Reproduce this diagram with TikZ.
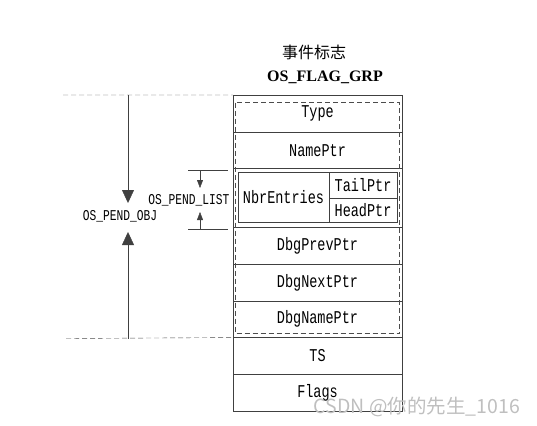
\documentclass[tikz,border=0pt]{standalone}
\usepackage{fontspec}
\setmainfont{Liberation Serif}
\newfontfamily\cjkfont{Noto Sans CJK SC}
\newfontfamily\cellfont[FakeStretch=0.75]{Liberation Mono}
\usetikzlibrary{positioning,calc,arrows.meta}
\tikzset{
  cell/.style={draw=black!75, outer sep=0pt, inner sep=0pt,
    minimum width=169pt, minimum height=36.7pt,
    font=\cellfont\fontsize{18}{20}\selectfont},
  subcell/.style={cell, minimum width=68pt},
  dashbox/.style={draw=black!70, dash pattern=on 5pt off 3pt},
  dimline/.style={draw=black!75},
  bigtip/.style={dimline, -{Triangle[width=12pt,length=13pt]}},
  smalltip/.style={dimline, -{Triangle[width=6pt,length=8pt]}},
  dimlabel/.style={inner sep=0pt, font=\cellfont\fontsize{15}{17}\selectfont}
}
\begin{document}
\begin{tikzpicture}[x=1pt,y=-1pt]
\useasboundingbox (0,0) rectangle (537,425);
% title
\node[font=\cjkfont\fontsize{16}{18}\selectfont] (title) at (314,52) {事件标志};
\node[font=\bfseries\fontsize{16}{18}\selectfont] (grp) at (325,77) {OS\_FLAG\_GRP};
% the fields
\node[cell] (type) at (317.5,113.4) {Type};
\node[cell, below=0pt of type] (nameptr) {NamePtr};
\node[cell, minimum height=59pt, below=0pt of nameptr] (pendlist) {};
\node[cell, below=0pt of pendlist] (dbgprev) {DbgPrevPtr};
\node[cell, below=0pt of dbgprev] (dbgnext) {DbgNextPtr};
\node[cell, below=0pt of dbgnext] (dbgname) {DbgNamePtr};
\node[cell, below=0pt of dbgname] (ts) {TS};
\node[cell, below=0pt of ts] (flags) {Flags};
% OS_PEND_LIST inside
\node[cell, minimum width=91pt, minimum height=50pt, anchor=north west] (nbr)
  at ($(pendlist.north west)+(5,4)$) {NbrEntries};
\node[subcell, minimum height=26pt, anchor=north west] (tail) at (nbr.north east) {TailPtr};
\node[subcell, minimum height=24pt, below=0pt of tail] (head) {HeadPtr};
% OS_PEND_OBJ part
\draw[dashbox] ($(type.north west)+(2.5,7.5)$) rectangle ($(dbgname.south east)+(-2.5,-4)$);
% OS_PEND_OBJ dimension
\coordinate (objtop) at (63,95);
\coordinate (objbot) at (66,338.5);
\coordinate (objup) at (128,95);
\coordinate (objdown) at (128,338.5);
\coordinate (objtipa) at (128,203);
\coordinate (objtipb) at (128,232);
\draw[dashbox] (objtop) -- (type.north west);
\draw[dashbox] (objbot) -- (dbgname.south west);
\draw[bigtip] (objup) -- (objtipa);
\draw[bigtip] (objdown) -- (objtipb);
\node[dimlabel] (objlabel) at (120,216) {OS\_PEND\_OBJ};
% OS_PEND_LIST dimension
\coordinate (lsta) at (188,170);
\coordinate (lstb) at (228,170);
\coordinate (lstc) at (188,229);
\coordinate (lstd) at (228,229);
\coordinate (lstup) at (200,170);
\coordinate (lstdown) at (200,229);
\coordinate (lsttipa) at (200,188);
\coordinate (lsttipb) at (200,212);
\draw[dimline] (lsta) -- (lstb);
\draw[dimline] (lstc) -- (lstd);
\draw[smalltip] (lstup) -- (lsttipa);
\draw[smalltip] (lstdown) -- (lsttipb);
\node[dimlabel, fill=white] (lstlabel) at (189,200) {OS\_PEND\_LIST};
% watermark
\node[text=black!25, font=\cjkfont\fontsize{19.5}{21}\selectfont] (mark) at (417,407) {CSDN @你的先生\_1016};
\end{tikzpicture}
\end{document}
